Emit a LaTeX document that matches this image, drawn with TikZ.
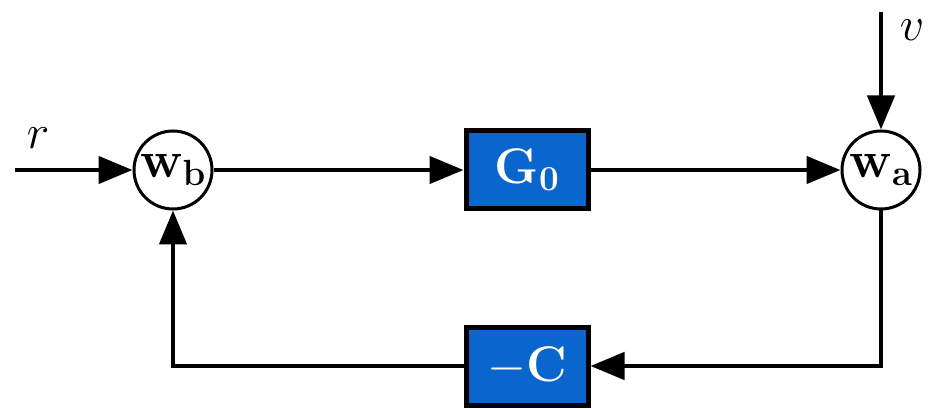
\documentclass[tikz,border=0pt]{standalone}
\usepackage{fix-cm}
\usetikzlibrary{arrows.meta}
\definecolor{boxblue}{RGB}{10,102,204}
\begin{document}
\begin{tikzpicture}[x=1pt,y=-1pt,
  line width=4.5pt,
  arr/.style={-{Triangle[length=34pt,width=27pt]}},
  sumnode/.style={circle,draw,line width=3pt,minimum size=78pt,inner sep=0pt,fill=white,font=\fontsize{52}{60}\selectfont},
  blk/.style={rectangle,draw,line width=5pt,fill=boxblue,minimum width=122pt,minimum height=78pt,text=white,font=\fontsize{50}{60}\selectfont},
  lbl/.style={font=\fontsize{48}{56}\selectfont}]
\useasboundingbox (0,0) rectangle (930,409);
\node[sumnode] (wb) at (173,170) {$\mathbf{w_b}$};
\node[sumnode] (wa) at (881,170) {$\mathbf{w_a}$};
\node[blk] (g0) at (527,170) {$\mathbf{G_0}$};
\node[blk] (c) at (527,366) {$\mathbf{-C}$};
\coordinate (rin) at (15,170);
\coordinate (vin) at (881,12);
\coordinate (fa) at (881,366);
\coordinate (fb) at (173,366);
\node[lbl] (rl) at (38,138) {$r$};
\node[lbl] (vl) at (912,30) {$v$};
\draw[arr] (rin) -- (wb);
\draw[arr] (wb) -- (g0);
\draw[arr] (g0) -- (wa);
\draw[arr] (vin) -- (wa);
\draw[arr] (wa) -- (fa) -- (c);
\draw[arr] (c) -- (fb) -- (wb);
\end{tikzpicture}
\end{document}
